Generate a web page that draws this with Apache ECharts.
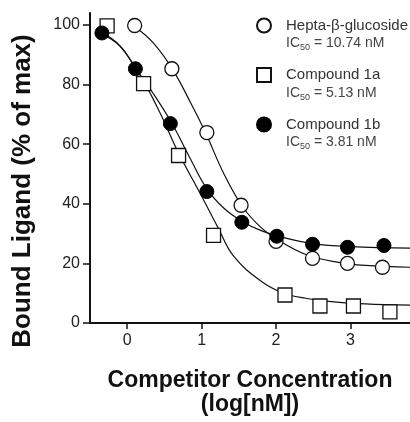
<!DOCTYPE html>
<html>
<head>
<meta charset="utf-8">
<script src="https://cdn.jsdelivr.net/npm/echarts@6/dist/echarts.min.js"></script>
<style>
  html, body { margin: 0; padding: 0; background: #fff; }
  #chart { width: 410px; height: 422px; }
</style>
</head>
<body>
<div id="chart"></div>
<script>
// series names and IC50 values shown in the legend
const seriesNames = ['Hepta-β-glucoside', 'Compound 1a', 'Compound 1b'];
const ic50Values = ['10.74', '5.13', '3.81'];

// measured points (log[nM], % of max)
const heptaX = [0.1, 0.6, 1.07, 1.53, 2.0, 2.49, 2.96, 3.43];
const heptaY = [99.8, 85.3, 63.9, 39.5, 27.4, 21.7, 20.0, 18.7];
const cmp1aX = [-0.27, 0.22, 0.69, 1.16, 2.12, 2.59, 3.04, 3.53];
const cmp1aY = [99.7, 80.3, 56.2, 29.4, 9.4, 5.7, 5.7, 3.7];
const cmp1bX = [-0.34, 0.11, 0.58, 1.07, 1.54, 2.01, 2.49, 2.96, 3.45];
const cmp1bY = [97.3, 85.3, 66.9, 44.1, 33.8, 29.1, 26.4, 25.4, 26.0];

// fitted curves
const heptaFitX = [0.1, 0.35, 0.6, 0.85, 1.05, 1.3, 1.55, 1.8, 2.05, 2.4, 2.8, 3.2, 3.8];
const heptaFitY = [99.5, 94, 85.5, 74, 64, 50, 39, 32, 27.5, 23, 20.5, 19.3, 18.7];
const cmp1aFitX = [-0.38, -0.1, 0.2, 0.45, 0.69, 0.99, 1.22, 1.43, 1.8, 2.1, 2.4, 2.74, 3.2, 3.8];
const cmp1aFitY = [98, 93, 82, 70, 57, 43, 32, 22.4, 14, 10, 8.3, 7.2, 6.4, 6];
const cmp1bFitX = [-0.38, -0.1, 0.11, 0.35, 0.6, 0.85, 1.07, 1.3, 1.55, 1.8, 2.05, 2.5, 3.0, 3.8];
const cmp1bFitY = [97.5, 93, 85.5, 77, 67, 55, 45, 38.5, 34, 31, 29, 26.6, 25.6, 25.1];

// axis ticks
const xTicks = [0, 1, 2, 3];

function pairs(xs, ys) {
  return xs.map((x, i) => [x, ys[i]]);
}

const chart = echarts.init(document.getElementById('chart'), null, { renderer: 'canvas' });
const font = '"Liberation Sans", Arial, sans-serif';

const markerStyle = [
  { symbol: 'circle', symbolSize: 14, itemStyle: { color: '#fff', borderColor: '#111', borderWidth: 1.3, opacity: 1 } },
  { symbol: 'rect', symbolSize: 14, itemStyle: { color: '#fff', borderColor: '#111', borderWidth: 1.3, opacity: 1 } },
  { symbol: 'circle', symbolSize: 14, itemStyle: { color: '#000', borderColor: '#000', borderWidth: 1, opacity: 1 } }
];
const points = [pairs(heptaX, heptaY), pairs(cmp1aX, cmp1aY), pairs(cmp1bX, cmp1bY)];
const fits = [pairs(heptaFitX, heptaFitY), pairs(cmp1aFitX, cmp1aFitY), pairs(cmp1bFitX, cmp1bFitY)];

const series = [];
fits.forEach((d, i) => {
  series.push({
    name: 'fit ' + i,
    type: 'line',
    data: d,
    smooth: 0.4,
    showSymbol: false,
    silent: true,
    lineStyle: { color: '#111', width: 1.2 },
    z: 2
  });
});
points.forEach((d, i) => {
  series.push(Object.assign({
    name: seriesNames[i],
    type: 'scatter',
    data: d,
    z: 3
  }, markerStyle[i]));
});

// legend text: blank line on top so the symbol sits beside the first line
const legendRich = {
  e: { fontSize: 15, lineHeight: 18 },
  n: { fontSize: 15, lineHeight: 18, color: '#333', fontFamily: font, padding: [0, 0, 0, 10] },
  i0: { fontSize: 14, lineHeight: 18, color: '#444', fontFamily: font, padding: [0, 0, 0, 10] },
  i: { fontSize: 14, lineHeight: 18, color: '#444', fontFamily: font },
  s: { fontSize: 9, lineHeight: 18, color: '#444', fontFamily: font, verticalAlign: 'bottom' }
};

chart.setOption({
  animation: false,
  textStyle: { fontFamily: font },
  grid: { left: 90, right: 0, top: 13, bottom: 97, containLabel: false },
  legend: {
    data: seriesNames,
    orient: 'vertical',
    left: 256,
    top: 0,
    padding: 0,
    itemGap: -3,
    itemWidth: 14,
    itemHeight: 14,
    formatter: function (name) {
      const ic = ic50Values[seriesNames.indexOf(name)];
      return '{e| }\n{n|' + name + '}\n{i0|IC}{s|50}{i| = ' + ic + ' nM}';
    },
    textStyle: { color: '#333', rich: legendRich }
  },
  xAxis: {
    type: 'value',
    min: -0.5,
    max: 3.8,
    name: 'Competitor Concentration\n(log[nM])',
    nameLocation: 'middle',
    nameGap: 46,
    nameTextStyle: { fontSize: 23, fontWeight: 'bold', color: '#111', lineHeight: 24, fontFamily: font },
    axisLine: { onZero: false, lineStyle: { color: '#111', width: 2 } },
    axisTick: { show: true, length: 6, customValues: xTicks, lineStyle: { color: '#111', width: 1.5 } },
    axisLabel: { customValues: xTicks, fontSize: 16, color: '#222', margin: 10 },
    splitLine: { show: false }
  },
  yAxis: {
    type: 'value',
    min: 0,
    max: 104,
    interval: 20,
    axisLine: { show: true, onZero: false, lineStyle: { color: '#111', width: 2 } },
    axisTick: { show: true, length: 7, lineStyle: { color: '#111', width: 1.5 } },
    axisLabel: { fontSize: 16, color: '#222', margin: 10 },
    splitLine: { show: false }
  },
  graphic: [{
    type: 'text',
    x: 23,
    y: 191,
    rotation: Math.PI / 2,
    style: {
      text: 'Bound Ligand (% of max)',
      font: 'bold 26px ' + font,
      fill: '#111',
      align: 'center',
      verticalAlign: 'middle'
    }
  }],
  series: series
});
</script>
</body>
</html>
